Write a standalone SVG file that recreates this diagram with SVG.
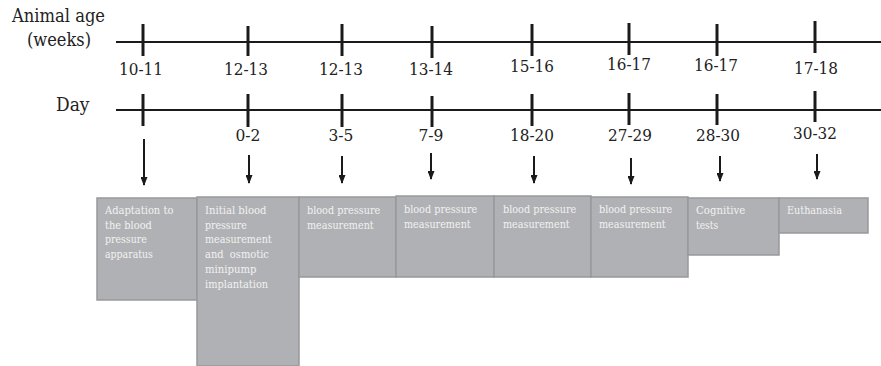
<svg xmlns="http://www.w3.org/2000/svg" width="881" height="366" viewBox="0 0 881 366">
<defs>
<marker id="ah" markerWidth="9" markerHeight="7" refX="8" refY="3.5" orient="auto" markerUnits="userSpaceOnUse" viewBox="0 0 9 7">
<path d="M0,0 L9,3.5 L0,7 Z" fill="#1a1a1a"/>
</marker>
<style>
.axis{stroke:#1a1a1a;stroke-width:2.2;fill:none}
.tick{stroke:#1a1a1a;stroke-width:3;fill:none}
text{font-family:"DejaVu Serif","Liberation Serif",serif}
.lbl{font-size:17.5px;fill:#222;text-anchor:middle}
.head{font-size:18.5px;fill:#222}
.arr{stroke:#1a1a1a;stroke-width:2;fill:none}
.box{fill:#b0b1b4;stroke:#98999c;stroke-width:1.5}
.bt{font-size:11.6px;fill:#f2f2f2}
</style>
</defs>
<rect width="881" height="366" fill="#fff"/>
<g id="axes">
<text class="head" x="12" y="22" textLength="93" lengthAdjust="spacingAndGlyphs">Animal age</text>
<text class="head" x="27" y="46" textLength="64" lengthAdjust="spacingAndGlyphs">(weeks)</text>
<text class="head" x="56" y="111" textLength="33.5" lengthAdjust="spacingAndGlyphs">Day</text>
<line class="axis" x1="116" y1="42" x2="881" y2="42"/>
<line class="axis" x1="116" y1="110" x2="881" y2="110"/>
<g class="tick">
<line x1="143" y1="24" x2="143" y2="56"/><line x1="248" y1="26" x2="248" y2="56"/>
<line x1="342" y1="24" x2="342" y2="56"/><line x1="432" y1="26" x2="432" y2="58"/>
<line x1="532" y1="24" x2="532" y2="56"/><line x1="629" y1="23" x2="629" y2="55"/>
<line x1="717" y1="24" x2="717" y2="56"/><line x1="815" y1="21" x2="815" y2="53"/>
<line x1="143" y1="94" x2="143" y2="126"/><line x1="248" y1="94" x2="248" y2="127"/>
<line x1="342" y1="94" x2="342" y2="127"/><line x1="432" y1="96" x2="432" y2="127"/>
<line x1="532" y1="94" x2="532" y2="126"/><line x1="629" y1="93" x2="629" y2="125"/>
<line x1="717" y1="94" x2="717" y2="125"/><line x1="815" y1="91" x2="815" y2="122"/>
</g>
<text class="lbl" x="141" y="75" textLength="44" lengthAdjust="spacingAndGlyphs">10-11</text>
<text class="lbl" x="246" y="75" textLength="44" lengthAdjust="spacingAndGlyphs">12-13</text>
<text class="lbl" x="341" y="75" textLength="44" lengthAdjust="spacingAndGlyphs">12-13</text>
<text class="lbl" x="431" y="75" textLength="44" lengthAdjust="spacingAndGlyphs">13-14</text>
<text class="lbl" x="532" y="72" textLength="44" lengthAdjust="spacingAndGlyphs">15-16</text>
<text class="lbl" x="629" y="70" textLength="44" lengthAdjust="spacingAndGlyphs">16-17</text>
<text class="lbl" x="716" y="71" textLength="44" lengthAdjust="spacingAndGlyphs">16-17</text>
<text class="lbl" x="816" y="74" textLength="44" lengthAdjust="spacingAndGlyphs">17-18</text>
<text class="lbl" x="248" y="141" textLength="25" lengthAdjust="spacingAndGlyphs">0-2</text>
<text class="lbl" x="341" y="141" textLength="25" lengthAdjust="spacingAndGlyphs">3-5</text>
<text class="lbl" x="431" y="141" textLength="25" lengthAdjust="spacingAndGlyphs">7-9</text>
<text class="lbl" x="532" y="141" textLength="44" lengthAdjust="spacingAndGlyphs">18-20</text>
<text class="lbl" x="630" y="141" textLength="44" lengthAdjust="spacingAndGlyphs">27-29</text>
<text class="lbl" x="718" y="141" textLength="44" lengthAdjust="spacingAndGlyphs">28-30</text>
<text class="lbl" x="815" y="139" textLength="44" lengthAdjust="spacingAndGlyphs">30-32</text>
</g>
<g id="connectors">
<line class="arr" x1="144" y1="139" x2="144" y2="185" marker-end="url(#ah)"/>
<line class="arr" x1="249" y1="155" x2="249" y2="183" marker-end="url(#ah)"/>
<line class="arr" x1="342" y1="156" x2="342" y2="183" marker-end="url(#ah)"/>
<line class="arr" x1="431" y1="153" x2="431" y2="179" marker-end="url(#ah)"/>
<line class="arr" x1="534" y1="156" x2="534" y2="183" marker-end="url(#ah)"/>
<line class="arr" x1="631" y1="158" x2="631" y2="184" marker-end="url(#ah)"/>
<line class="arr" x1="720" y1="156" x2="720" y2="181" marker-end="url(#ah)"/>
<line class="arr" x1="817" y1="154" x2="817" y2="179" marker-end="url(#ah)"/>
</g>
<g id="n1"><rect class="box" x="97" y="198" width="100" height="102"/>
<text class="bt" x="105" y="214" textLength="68.4" lengthAdjust="spacingAndGlyphs">Adaptation to</text>
<text class="bt" x="105" y="228.7" textLength="46.9" lengthAdjust="spacingAndGlyphs">the blood</text>
<text class="bt" x="105" y="243.4" textLength="41.7" lengthAdjust="spacingAndGlyphs">pressure</text>
<text class="bt" x="105" y="258.1" textLength="47.9" lengthAdjust="spacingAndGlyphs">apparatus</text></g>
<g id="n2"><rect class="box" x="197" y="197" width="102" height="169"/>
<text class="bt" x="205" y="214" textLength="61.5" lengthAdjust="spacingAndGlyphs">Initial blood</text>
<text class="bt" x="205" y="228.7" textLength="41.7" lengthAdjust="spacingAndGlyphs">pressure</text>
<text class="bt" x="205" y="243.4" textLength="66.7" lengthAdjust="spacingAndGlyphs">measurement</text>
<text class="bt" x="205" y="258.1" textLength="63.9" lengthAdjust="spacingAndGlyphs" xml:space="preserve">and  osmotic</text>
<text class="bt" x="205" y="272.8" textLength="51.4" lengthAdjust="spacingAndGlyphs">minipump</text>
<text class="bt" x="205" y="287.5" textLength="63.2" lengthAdjust="spacingAndGlyphs">implantation</text></g>
<g id="n3"><rect class="box" x="299" y="197" width="97" height="80"/>
<text class="bt" x="307" y="214" textLength="73.3" lengthAdjust="spacingAndGlyphs">blood pressure</text>
<text class="bt" x="307" y="228.7" textLength="66.7" lengthAdjust="spacingAndGlyphs">measurement</text></g>
<g id="n4"><rect class="box" x="396" y="196" width="98" height="81"/>
<text class="bt" x="404" y="213" textLength="73.3" lengthAdjust="spacingAndGlyphs">blood pressure</text>
<text class="bt" x="404" y="227.7" textLength="66.7" lengthAdjust="spacingAndGlyphs">measurement</text></g>
<g id="n5"><rect class="box" x="494" y="196" width="97" height="81"/>
<text class="bt" x="503" y="213" textLength="73.3" lengthAdjust="spacingAndGlyphs">blood pressure</text>
<text class="bt" x="503" y="227.7" textLength="66.7" lengthAdjust="spacingAndGlyphs">measurement</text></g>
<g id="n6"><rect class="box" x="591" y="197" width="97" height="80"/>
<text class="bt" x="599" y="213" textLength="73.3" lengthAdjust="spacingAndGlyphs">blood pressure</text>
<text class="bt" x="599" y="227.7" textLength="66.7" lengthAdjust="spacingAndGlyphs">measurement</text></g>
<g id="n7"><rect class="box" x="688" y="198" width="91" height="57"/>
<text class="bt" x="696" y="214" textLength="49.3" lengthAdjust="spacingAndGlyphs">Cognitive</text>
<text class="bt" x="696" y="228.7" textLength="22.2" lengthAdjust="spacingAndGlyphs">tests</text></g>
<g id="n8"><rect class="box" x="779" y="198" width="89" height="35"/>
<text class="bt" x="787" y="214" textLength="54.9" lengthAdjust="spacingAndGlyphs">Euthanasia</text></g>
</svg>
